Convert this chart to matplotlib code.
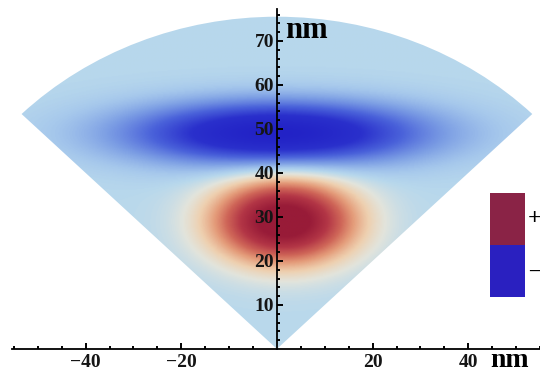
import numpy as np
import matplotlib
matplotlib.use("Agg")
import matplotlib.pyplot as plt
from matplotlib.colors import LinearSegmentedColormap, TwoSlopeNorm
from matplotlib.patches import Wedge, Rectangle

# field blobs (nm)
blob_cx = [1.5, 0.0]
blob_cy = [29.0, 49.0]
blob_sx = [10.0, 21.0]
blob_sy = [6.5, 4.9]
blob_amp = [1.15, -1.0]

sector_r = 75.5
sector_deg = (45, 135)

xtick_vals = [-40, -20, 20, 40]
ytick_vals = [10, 20, 30, 40, 50, 60, 70]

# colour map: zero sits on the pale blue background
cmap_stops = [
    (0.00, "#2222c6"),
    (0.15, "#2a30cc"),
    (0.27, "#4a62da"),
    (0.38, "#7c9ee4"),
    (0.46, "#a6c8ec"),
    (0.50, "#b8d8ec"),
    (0.56, "#e2e4dc"),
    (0.62, "#eed0b0"),
    (0.70, "#e49c7a"),
    (0.78, "#cf6658"),
    (0.88, "#b33646"),
    (1.00, "#981b38"),
]
cmap = LinearSegmentedColormap.from_list("field", cmap_stops)

serif = "Liberation Serif"

xs = np.linspace(-56, 56, 500)
ys = np.linspace(0, 77, 400)
X, Y = np.meshgrid(xs, ys)
Z = np.zeros_like(X)
for cx, cy, sx, sy, a in zip(blob_cx, blob_cy, blob_sx, blob_sy, blob_amp):
    Z += a * np.exp(-0.5 * ((X - cx) / sx) ** 2 - 0.5 * ((Y - cy) / sy) ** 2)

fig = plt.figure(figsize=(5.4, 3.74), dpi=100)
ax = fig.add_axes([0, 0, 1, 1])
ax.set_xlim(-57.9, 55.0)
ax.set_ylim(-5.7, 79.3)

im = ax.imshow(Z, origin="lower", extent=(xs[0], xs[-1], ys[0], ys[-1]),
               cmap=cmap, norm=TwoSlopeNorm(vcenter=0, vmin=-1, vmax=1),
               interpolation="bilinear", aspect="auto", zorder=0)
wedge = Wedge((0, 0), sector_r, sector_deg[0], sector_deg[1], transform=ax.transData)
im.set_clip_path(wedge)

# axes through the origin
for s in ["top", "right"]:
    ax.spines[s].set_visible(False)
ax.spines["left"].set_position(("data", 0))
ax.spines["bottom"].set_position(("data", 0))
ax.spines["left"].set_bounds(0, 77.2)
ax.spines["bottom"].set_bounds(-55.3, 56)
for s in ["left", "bottom"]:
    ax.spines[s].set_linewidth(1.3)
    ax.spines[s].set_zorder(3)

ax.set_xticks(xtick_vals)
ax.set_xticklabels(["\u2212%d" % -v if v < 0 else str(v) for v in xtick_vals])
ax.set_yticks(ytick_vals)
ax.set_yticklabels([str(v) for v in ytick_vals])
ax.set_xticks([v for v in range(-55, 56, 5) if v % 20 != 0], minor=True)
ax.set_yticks([v for v in range(2, 77, 2) if v % 10 != 0], minor=True)

ax.tick_params(which="major", direction="in", length=4, width=1.4, pad=4)
ax.tick_params(which="minor", direction="in", length=2, width=1.4)
ax.tick_params(axis="y", which="major", pad=2)
for lbl in ax.get_xticklabels() + ax.get_yticklabels():
    lbl.set_fontfamily(serif)
    lbl.set_fontweight("bold")
    lbl.set_fontsize(14)
    lbl.set_color("#151515")

# x label sits a touch high so its box stays inside the figure
ax.text(44.6, -4.0, "nm", family=serif, weight="bold", fontsize=20,
        ha="left", va="baseline")
ax.text(1.7, 70.7, "nm", family=serif, weight="bold", fontsize=22,
        ha="left", va="baseline")

# sign legend on the right
fig.patches.append(Rectangle((0.907, 0.345), 0.065, 0.139, transform=fig.transFigure,
                             facecolor="#8a2346", edgecolor="none"))
fig.patches.append(Rectangle((0.907, 0.206), 0.065, 0.139, transform=fig.transFigure,
                             facecolor="#2a20c0", edgecolor="none"))
fig.text(0.99, 1 - 219 / 374, "+", family=serif, weight="bold", fontsize=17,
         ha="center", va="center")
fig.text(0.99, 1 - 271 / 374, "\u2013", family=serif, weight="bold", fontsize=17,
         ha="center", va="center")

fig.savefig("out.png", dpi=100)
